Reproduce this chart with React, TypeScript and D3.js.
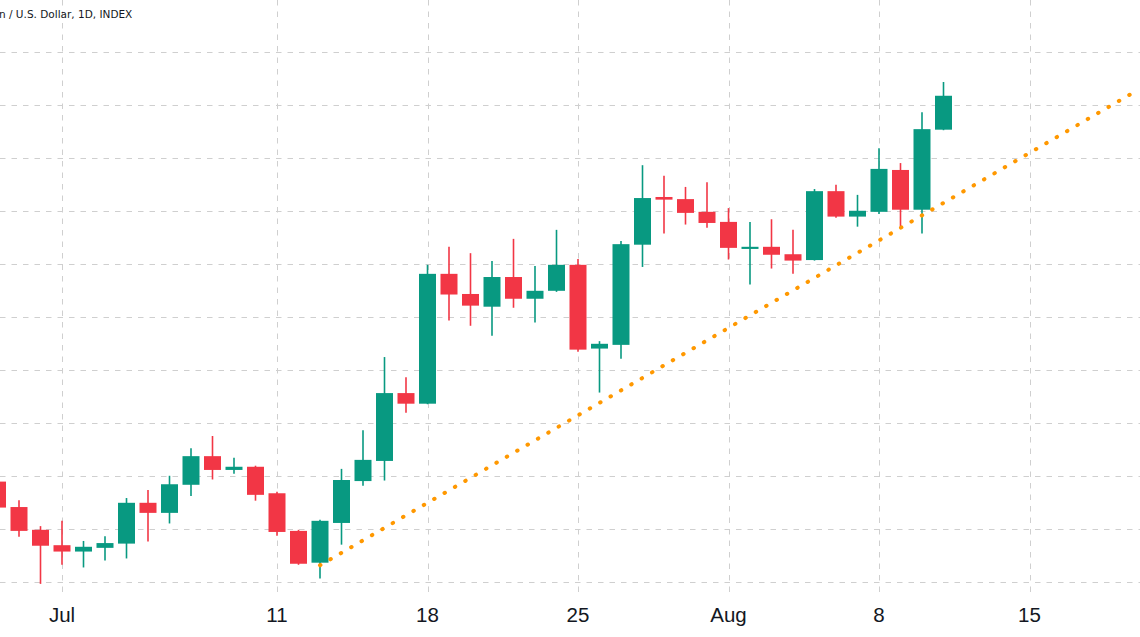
import React from "react";
import * as d3 from "d3";

const dates = [
  "2022-06-28", "2022-06-29", "2022-06-30", "2022-07-01", "2022-07-02", "2022-07-03", "2022-07-04",
  "2022-07-05", "2022-07-06", "2022-07-07", "2022-07-08", "2022-07-09", "2022-07-10", "2022-07-11",
  "2022-07-12", "2022-07-13", "2022-07-14", "2022-07-15", "2022-07-16", "2022-07-17", "2022-07-18",
  "2022-07-19", "2022-07-20", "2022-07-21", "2022-07-22", "2022-07-23", "2022-07-24", "2022-07-25",
  "2022-07-26", "2022-07-27", "2022-07-28", "2022-07-29", "2022-07-30", "2022-07-31", "2022-08-01",
  "2022-08-02", "2022-08-03", "2022-08-04", "2022-08-05", "2022-08-06", "2022-08-07", "2022-08-08",
  "2022-08-09", "2022-08-10", "2022-08-11",
];
const opens = [
  1190, 1142, 1099, 1070, 1058, 1065, 1073, 1150, 1131, 1184, 1238, 1212, 1218, 1168, 1097, 1037,
  1112, 1191, 1229, 1357, 1337, 1582, 1544, 1520, 1576, 1535, 1550, 1599, 1441, 1448, 1637, 1727,
  1723, 1699, 1680, 1629, 1633, 1619, 1608, 1738, 1690, 1699, 1778, 1703, 1854,
];
const highs = [
  1200, 1155, 1106, 1116, 1078, 1087, 1159, 1174, 1201, 1253, 1276, 1235, 1220, 1171, 1099, 1118,
  1214, 1287, 1425, 1387, 1599, 1633, 1621, 1606, 1648, 1597, 1665, 1610, 1455, 1644, 1787, 1767,
  1746, 1755, 1706, 1680, 1685, 1665, 1742, 1750, 1731, 1819, 1791, 1887, 1944,
];
const lows = [
  1135, 1086, 997, 1033, 1028, 1041, 1045, 1077, 1111, 1163, 1194, 1205, 1154, 1088, 1033, 1007,
  1071, 1182, 1192, 1320, 1336, 1494, 1484, 1465, 1518, 1490, 1548, 1435, 1358, 1422, 1595, 1658,
  1675, 1669, 1609, 1562, 1592, 1582, 1607, 1688, 1671, 1695, 1671, 1658, 1853,
];
const closes = [
  1141, 1097, 1069, 1058, 1067, 1074, 1150, 1131, 1185, 1238, 1212, 1218, 1165, 1095, 1035, 1116,
  1193, 1231, 1357, 1337, 1582, 1543, 1522, 1576, 1535, 1550, 1599, 1439, 1450, 1638, 1725, 1722,
  1697, 1678, 1631, 1633, 1618, 1607, 1738, 1690, 1701, 1780, 1703, 1855, 1918,
];

const xTickDates = ["2022-07-01", "2022-07-11", "2022-07-18", "2022-07-25", "2022-08-01", "2022-08-08", "2022-08-15"];
const xTickLabels = ["Jul", "11", "18", "25", "Aug", "8", "15"];
const yGridValues = [1000, 1100, 1200, 1300, 1400, 1500, 1600, 1700, 1800, 1900, 2000];

const trendDates = ["2022-07-13", "2022-08-20"];
const trendValues = [1032, 1928];

const title = "n / U.S. Dollar, 1D, INDEX";

const W = 1140;
const H = 637;
const UP = "#089981";
const DOWN = "#F23645";
const GRID = "#cfcfcf";

const parse = (s: string) => new Date(s + "T00:00:00Z");

export default function App() {
  const x = d3
    .scaleUtc()
    .domain([parse("2022-07-01"), parse("2022-08-15")])
    .range([62, 62 + 45 * 21.5]);
  const y = d3.scaleLinear().domain([1000, 2000]).range([582.3, 52.3]);

  const bodyW = 17;
  const candles = dates.map((d, i) => ({
    date: parse(d),
    o: opens[i],
    h: highs[i],
    l: lows[i],
    c: closes[i],
  }));

  const trend = trendDates.map((d, i) => ({ date: parse(d), v: trendValues[i] }));
  const trendLine = d3
    .line<{ date: Date; v: number }>()
    .x((d) => x(d.date))
    .y((d) => y(d.v));

  return (
    <svg
      width={W}
      height={H}
      style={{ position: "fixed", left: 0, top: 0, background: "#ffffff" }}
    >
      <rect x={0} y={0} width={W} height={H} fill="#ffffff" />
      {yGridValues.map((v) => (
        <line
          key={"h" + v}
          x1={0}
          x2={W}
          y1={Math.round(y(v)) + 0.5}
          y2={Math.round(y(v)) + 0.5}
          stroke={GRID}
          strokeWidth={1}
          strokeDasharray="5.5 6"
        />
      ))}
      {xTickDates.map((d) => {
        const xx = Math.round(x(parse(d))) + 0.5;
        return (
          <line
            key={"v" + d}
            x1={xx}
            x2={xx}
            y1={0}
            y2={594}
            stroke={GRID}
            strokeWidth={1}
            strokeDasharray="5.5 6"
          />
        );
      })}
      {candles.map((c, i) => {
        const cx = x(c.date);
        const up = c.c >= c.o;
        const col = up ? UP : DOWN;
        const top = y(Math.max(c.o, c.c));
        const bot = y(Math.min(c.o, c.c));
        return (
          <g key={"c" + i}>
            <line
              x1={cx}
              x2={cx}
              y1={y(c.h)}
              y2={y(c.l)}
              stroke={col}
              strokeWidth={1.6}
            />
            <rect
              x={cx - bodyW / 2}
              y={top}
              width={bodyW}
              height={Math.max(1.5, bot - top)}
              fill={col}
            />
          </g>
        );
      })}
      <path
        d={trendLine(trend) || ""}
        fill="none"
        stroke="#FF9800"
        strokeWidth={4}
        strokeLinecap="round"
        strokeDasharray="0.5 11.5"
      />
      <text
        x={-1}
        y={18.3}
        fontFamily="DejaVu Sans"
        fontSize={10.5}
        fill="#131722"
      >
        {title}
      </text>
      {xTickDates.map((d, i) => (
        <text
          key={"t" + d}
          x={x(parse(d))}
          y={621.5}
          textAnchor="middle"
          fontFamily="Liberation Sans"
          fontSize={20.5}
          fill="#131722"
        >
          {xTickLabels[i]}
        </text>
      ))}
    </svg>
  );
}
